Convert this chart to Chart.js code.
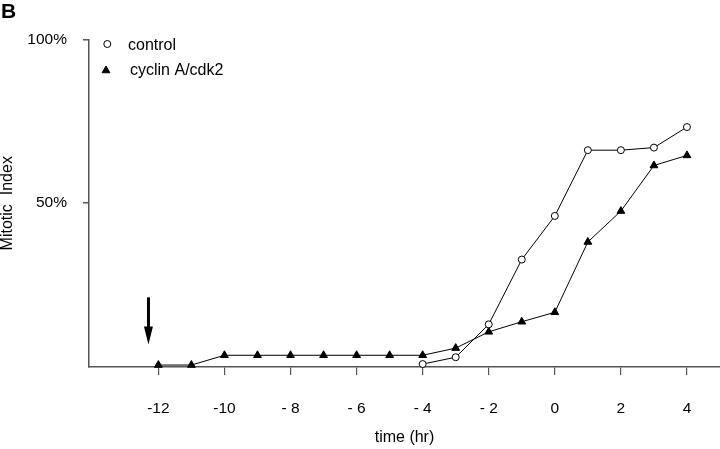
<!DOCTYPE html>
<html>
<head>
<meta charset="utf-8">
<script src="https://cdn.jsdelivr.net/npm/chart.js@4"></script>
<style>
  html, body { margin: 0; padding: 0; background: #fff; }
  #wrap { width: 720px; height: 449px; position: relative; }
</style>
</head>
<body>
<div id="wrap"><canvas id="myChart" width="720" height="449"></canvas></div>
<script>
// data (mitotic index, %)
const cyclinHours = [-12, -11, -10, -9, -8, -7, -6, -5, -4, -3, -2, -1, 0, 1, 2, 3, 4];
const cyclinValues = [0, 0, 3, 3, 3, 3, 3, 3, 3, 5.2, 10.2, 13.3, 16.2, 37.8, 47.3, 61.3, 64.4];
const controlHours = [-4, -3, -2, -1, 0, 1, 2, 3, 4];
const controlValues = [0.3, 2.4, 12.5, 32.4, 45.8, 66, 66, 66.8, 73.1];

const xTicks = [-12, -10, -8, -6, -4, -2, 0, 2, 4];
const yTicks = [50, 100];
const legendLabels = ["control", "cyclin A/cdk2"];

// arrow marking the time of injection
const arrowHour = -12.3;
const arrowFrom = 20.8;
const arrowTo = 6.3;

const FONT = "'Liberation Sans', Arial, Helvetica, sans-serif";

function toPoints(xs, ys) {
  return xs.map((x, i) => ({ x: x, y: ys[i] }));
}

function tickLabel(v) {
  if (v < 0 && v > -10) return "- " + (-v);
  return String(v);
}

// draws the panel letter, the inset legend and the arrow
const extras = {
  id: "extras",
  afterDraw(chart) {
    const ctx = chart.ctx;
    const xs = chart.scales.x;
    const ys = chart.scales.y;
    ctx.save();
    ctx.fillStyle = "#000";
    ctx.font = "bold 21px " + FONT;
    ctx.textBaseline = "alphabetic";
    ctx.fillText("B", 1, 17.5);

    // legend
    ctx.font = "16px " + FONT;
    ctx.fillText(legendLabels[0], 128, 50);
    ctx.fillText(legendLabels[1], 130, 74.5);
    ctx.lineWidth = 1;
    ctx.strokeStyle = "#000";
    ctx.fillStyle = "#fff";
    Chart.helpers.drawPoint(ctx, { pointStyle: "circle", radius: 3.5, borderWidth: 1 }, 107.3, 44);
    ctx.fillStyle = "#000";
    Chart.helpers.drawPoint(ctx, { pointStyle: "triangle", radius: 4.5, borderWidth: 1 }, 106, 70.5);

    // arrow
    const ax = xs.getPixelForValue(arrowHour);
    const y0 = ys.getPixelForValue(arrowFrom);
    const y1 = ys.getPixelForValue(arrowTo);
    ctx.lineWidth = 3;
    ctx.beginPath();
    ctx.moveTo(ax, y0);
    ctx.lineTo(ax, y1 - 14);
    ctx.stroke();
    ctx.beginPath();
    ctx.moveTo(ax - 4.5, y1 - 18);
    ctx.lineTo(ax + 4.5, y1 - 18);
    ctx.lineTo(ax, y1);
    ctx.closePath();
    ctx.fill();
    ctx.restore();
  }
};

const data = {
  datasets: [
    {
      label: legendLabels[0],
      data: toPoints(controlHours, controlValues),
      borderColor: "#000",
      backgroundColor: "#fff",
      borderWidth: 1,
      pointStyle: "circle",
      pointRadius: 3.5,
      pointBorderWidth: 1,
      pointBackgroundColor: "#fff",
      pointBorderColor: "#000",
      showLine: true,
      order: 0
    },
    {
      label: legendLabels[1],
      data: toPoints(cyclinHours, cyclinValues),
      borderColor: "#000",
      backgroundColor: "#000",
      borderWidth: 1,
      pointStyle: "triangle",
      pointRadius: 4.5,
      pointBorderWidth: 1,
      pointBackgroundColor: "#000",
      pointBorderColor: "#000",
      showLine: true,
      order: 1
    }
  ]
};

const config = {
  type: "scatter",
  data: data,
  plugins: [extras],
  options: {
    responsive: false,
    animation: false,
    clip: false,
    layout: { autoPadding: false, padding: { top: 39.5, right: 0, bottom: 0, left: 0 } },
    plugins: {
      legend: { display: false },
      tooltip: { enabled: false }
    },
    scales: {
      x: {
        type: "linear",
        min: -14.1,
        max: 5,
        afterBuildTicks: (scale) => { scale.ticks = xTicks.map((v) => ({ value: v })); },
        afterFit: (scale) => { scale.height = 82; },
        grid: { display: true, drawOnChartArea: false, drawTicks: true, tickLength: 8, color: "#555", lineWidth: 1.2 },
        border: { display: true, color: "#555", width: 1.5 },
        ticks: {
          color: "#000",
          font: { family: FONT, size: 15.5 },
          padding: 24,
          maxRotation: 0,
          autoSkip: false,
          callback: (v) => tickLabel(v)
        },
        title: {
          display: true,
          text: "time (hr)",
          color: "#000",
          font: { family: FONT, size: 16, lineHeight: 1 },
          padding: { top: 0, bottom: 3 }
        }
      },
      y: {
        min: -0.6,
        max: 100,
        afterBuildTicks: (scale) => { scale.ticks = yTicks.map((v) => ({ value: v })); },
        afterFit: (scale) => { scale.width = 89; },
        grid: { display: true, drawOnChartArea: false, drawTicks: true, tickLength: 6, color: "#555", lineWidth: 1.5 },
        border: { display: true, color: "#555", width: 1.5 },
        ticks: {
          color: "#000",
          font: { family: FONT, size: 15.5 },
          padding: 16,
          callback: (v) => v + "%"
        },
        title: {
          display: true,
          text: "Mitotic  Index",
          color: "#000",
          font: { family: FONT, size: 16, lineHeight: 1 },
          padding: { top: 0, bottom: 0 }
        }
      }
    }
  }
};

const myChart = new Chart(document.getElementById("myChart"), config);
</script>
</body>
</html>
